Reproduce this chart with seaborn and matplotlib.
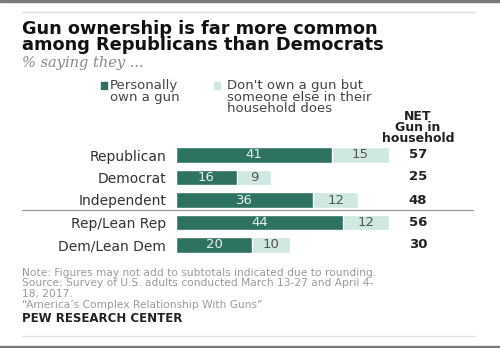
import matplotlib
matplotlib.use("Agg")
import matplotlib.pyplot as plt
import seaborn as sns
import pandas as pd
from matplotlib.lines import Line2D
from matplotlib.patches import Rectangle

groups = ["Republican", "Democrat", "Independent", "Rep/Lean Rep", "Dem/Lean Dem"]
personally_own = [41, 16, 36, 44, 20]
someone_else = [15, 9, 12, 12, 10]
net_gun = [57, 25, 48, 56, 30]

title_lines = ["Gun ownership is far more common", "among Republicans than Democrats"]
subtitle = "% saying they ..."
legend_own = ["Personally", "own a gun"]
legend_other = ["Don't own a gun but", "someone else in their", "household does"]
net_header = ["NET", "Gun in", "household"]
notes = [
    "Note: Figures may not add to subtotals indicated due to rounding.",
    "Source: Survey of U.S. adults conducted March 13-27 and April 4-",
    "18, 2017.",
    "\u201cAmerica\u2019s Complex Relationship With Guns\u201d",
]
source = "PEW RESEARCH CENTER"

DARK = "#2e7261"
LIGHT = "#cfe8e1"

sns.set_theme(style="white")
plt.rcParams["font.family"] = ["DejaVu Sans"]

W, H = 500, 348
fig = plt.figure(figsize=(5.0, 3.48), dpi=100)
fig.patch.set_facecolor("white")

def fx(px):
    return px / W

def fy(py):
    return 1 - py / H

# bar axes: x from 176px, 3.8 px per unit; rows centered at 155..245
x0, ppu = 176, 3.8
xmax = 60
row_top, row_bot = 155 - 11.25, 245 + 11.25
ax = fig.add_axes([fx(x0), fy(row_bot), fx(ppu * xmax), (row_bot - row_top) / H])

df = pd.DataFrame({
    "group": groups,
    "own": personally_own,
    "other": someone_else,
})
df["total"] = df["own"] + df["other"]

sns.barplot(data=df, x="total", y="group", order=groups, orient="h",
            color=LIGHT, saturation=1, width=0.667, ax=ax)
sns.barplot(data=df, x="own", y="group", order=groups, orient="h",
            color=DARK, saturation=1, width=0.667, ax=ax)

ax.set_xlim(0, xmax)
ax.set_ylim(len(groups) - 0.5, -0.5)
ax.set_xlabel("")
ax.set_ylabel("")
ax.set_xticks([])
ax.tick_params(axis="y", length=0, pad=7, labelsize=10, labelcolor="#333333")
for s in ax.spines.values():
    s.set_visible(False)
ax.patch.set_alpha(0)

for i, (o, e) in enumerate(zip(personally_own, someone_else)):
    ax.text(o / 2, i, str(o), ha="center", va="center", fontsize=9.5,
            color="#e8f0ee")
    ax.text(o + e / 2, i, str(e), ha="center", va="center", fontsize=9.5,
            color="#555555")

# NET values
for yc, n in zip([155, 177, 200, 223, 245], net_gun):
    fig.text(fx(418), fy(yc), str(n), ha="center", va="center",
             fontsize=9.5, fontweight="bold", color="#222222")

# NET header
fig.text(fx(418), fy(109.5), "\n".join(net_header), ha="center", va="top",
         fontsize=9, fontweight="bold", color="#222222", linespacing=0.80,
         multialignment="center")

# title
fig.text(fx(22), fy(20.5), "\n".join(title_lines), ha="left", va="top",
         fontsize=12.8, fontweight="bold", color="#111111", linespacing=0.81)

fig.text(fx(22), fy(67), subtitle, ha="left", va="baseline", fontsize=10.5,
         family="DejaVu Serif", style="italic", color="#888888")

# legend
fig.patches.append(Rectangle((fx(100.5), fy(88.5)), fx(6), 6 / H,
                             transform=fig.transFigure, color=DARK))
fig.patches.append(Rectangle((fx(213.5), fy(88.5)), fx(6), 6 / H,
                             transform=fig.transFigure, color=LIGHT))
fig.text(fx(110), fy(79), "\n".join(legend_own), ha="left", va="top",
         fontsize=9.5, color="#444444", linespacing=0.86)
fig.text(fx(227), fy(79), "\n".join(legend_other), ha="left", va="top",
         fontsize=9.5, color="#444444", linespacing=0.86)

# separator line between groups
fig.add_artist(Line2D([fx(22), fx(473)], [fy(210), fy(210)],
                      transform=fig.transFigure, color="#999999", lw=0.9))

# notes
fig.text(fx(22), fy(267.5), "\n".join(notes), ha="left", va="top",
         fontsize=7.7, color="#9a9a9a", linespacing=1.1)
fig.text(fx(22), fy(318.5), source, ha="left", va="center", fontsize=8.5,
         fontweight="bold", color="#222222")

# frame lines
for yy in [12, 336]:
    fig.add_artist(Line2D([fx(22), fx(475)], [fy(yy), fy(yy)],
                          transform=fig.transFigure, color="#e2e2e2", lw=1))
fig.patches.append(Rectangle((0, fy(2)), 1, 2 / H, transform=fig.transFigure,
                             color="#7a7a7a"))
fig.patches.append(Rectangle((0, 0), 1, 2.5 / H, transform=fig.transFigure,
                             color="#7a7a7a"))

fig.savefig("out.png", dpi=100, facecolor="white")
